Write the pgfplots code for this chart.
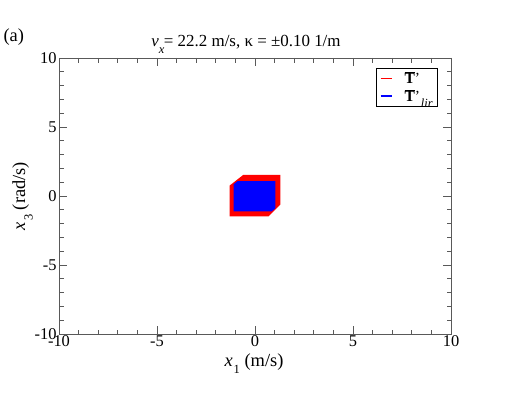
\documentclass[border=0pt]{standalone}
\usepackage{fontspec}
\setmainfont{Liberation Serif}
\usepackage{pgfplots}
\pgfplotsset{compat=1.18}

\definecolor{axgray}{rgb}{0.35,0.35,0.35}
\newcommand{\sub}[1]{\raisebox{-0.42em}{\fontsize{12.5}{12.5}\selectfont #1}}

\begin{document}
\begin{tikzpicture}[x=1bp,y=1bp]
\path (0,0) rectangle (508,393);

\begin{axis}[
  at={(59bp,59bp)}, anchor=south west,
  scale only axis, width=392bp, height=276bp,
  xmin=-10, xmax=10, ymin=-10, ymax=10,
  xtick={-10,-5,0,5,10}, ytick={-10,-5,0,5,10},
  minor tick num=4,
  tick align=inside,
  major tick length=8bp, minor tick length=4.5bp,
  axis line style={axgray, line width=0.9bp},
  every tick/.style={axgray, line width=0.8bp},
  /pgf/number format/assume math mode=true,
  ticklabel style={font=\fontsize{16.5}{16.5}\selectfont},
  xticklabel style={yshift=1.5bp},
  yticklabel style={xshift=1bp},
  legend style={at={(0.967,0.962)}, anchor=north east,
    draw=black, line width=0.6bp, font=\fontsize{15.5}{15.5}\selectfont,
    row sep=0bp, inner xsep=3bp, inner ysep=1bp, cells={anchor=west}},
  legend image code/.code={\draw[#1, line width=1.8bp] (0bp,0bp) -- (11bp,0bp);},
]

% outer set
\addplot[draw=none, fill=red, forget plot] coordinates {
  (-1.30,0.75)(-0.60,1.53)(1.29,1.53)(1.29,-0.62)(0.68,-1.48)(-1.30,-1.48)} -- cycle;

% inner set
\addplot[draw=none, fill=blue, forget plot] coordinates {
  (-1.09,0.85)(-0.90,1.07)(1.04,1.07)(1.04,-0.90)(0.85,-1.11)(-1.09,-1.11)} -- cycle;

\addlegendimage{red}
\addlegendentry{\hspace{10bp}$\overline{\hbox{\textbf{T}}}$'}
\addlegendimage{blue}
\addlegendentry{\hspace{10bp}$\overline{\hbox{\textbf{T}}}$'\hspace{1bp}\sub{\textit{lir}}}
\end{axis}

\node[anchor=base west, font=\fontsize{18.5}{18.5}\selectfont] at (0,352) {(a)};
\node[anchor=base, font=\fontsize{17}{17}\selectfont] at (246,347)
  {\textit{v}\sub{\textit{x}}\hspace{-0.5bp}= 22.2 m/s, κ = ±0.10 1/m};
\node[anchor=base, font=\fontsize{18.5}{18.5}\selectfont] at (254,27)
  {\textit{x}\hspace{1bp}\sub{1} (m/s)};
\node[anchor=base, rotate=90, font=\fontsize{18.5}{18.5}\selectfont] at (25,197)
  {\textit{x}\hspace{1bp}\sub{3} (rad/s)};
\end{tikzpicture}
\end{document}
